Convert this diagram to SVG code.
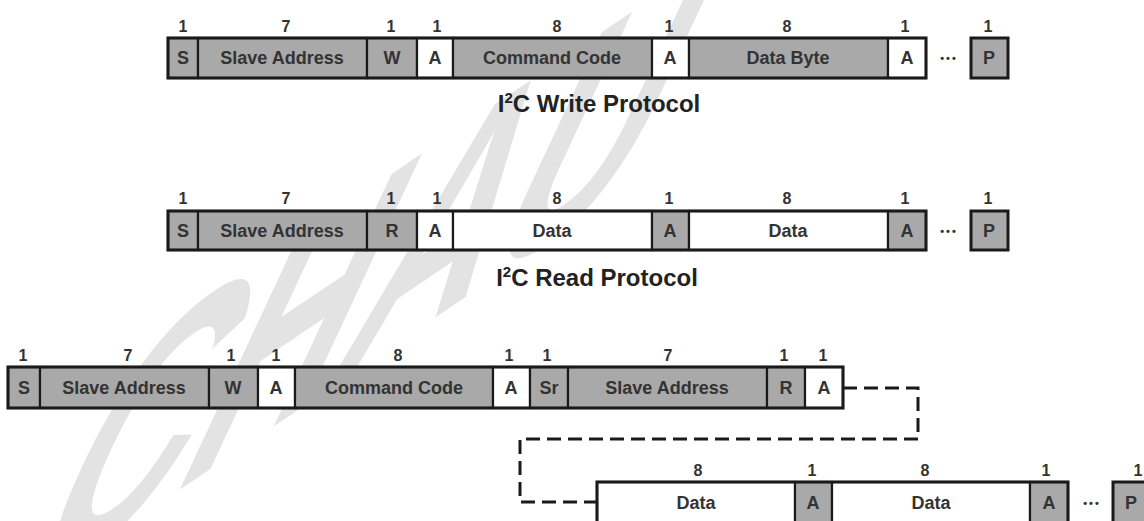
<svg xmlns="http://www.w3.org/2000/svg" width="1144" height="521" viewBox="0 0 1144 521">
<style>
.g{fill:#a9a9a9;stroke:#1a1a1a;stroke-width:2.2}
.w{fill:#ffffff;stroke:#1a1a1a;stroke-width:2.2}
.o{fill:none;stroke:#1a1a1a;stroke-width:3}
.l{font-family:"Liberation Sans",Arial,sans-serif;font-weight:bold;font-size:18px;fill:#333;text-anchor:middle}
.n{font-family:"Liberation Sans",Arial,sans-serif;font-weight:bold;font-size:16px;fill:#333;text-anchor:middle}
.c{font-family:"Liberation Sans",Arial,sans-serif;font-weight:bold;font-size:24px;fill:#222;text-anchor:middle}
.d{font-family:"Liberation Sans",Arial,sans-serif;font-weight:bold;font-size:11px;fill:#333;letter-spacing:2px;text-anchor:middle}
.wm{font-family:"Liberation Sans",Arial,sans-serif;font-weight:bold;font-size:300px;fill:#e3e3e3}
</style>
<rect width="1144" height="521" fill="#ffffff"/>
<text class="wm" transform="matrix(0.705,-0.475,-0.571,1.223,13,602)">CHAU</text>

<!-- Row 1: I2C Write -->
<g id="write">
<g id="w-s"><rect class="g" x="168" y="38" width="30" height="40"/><text class="l" x="183" y="64">S</text><text class="n" x="183" y="32">1</text></g>
<g id="w-addr"><rect class="g" x="198" y="38" width="169" height="40"/><text class="l" x="282" y="64">Slave Address</text><text class="n" x="286" y="32">7</text></g>
<g id="w-w"><rect class="g" x="367" y="38" width="50" height="40"/><text class="l" x="392" y="64">W</text><text class="n" x="391" y="32">1</text></g>
<g id="w-a1"><rect class="w" x="417" y="38" width="36" height="40"/><text class="l" x="435" y="64">A</text><text class="n" x="437" y="32">1</text></g>
<g id="w-cmd"><rect class="g" x="453" y="38" width="199" height="40"/><text class="l" x="552" y="64">Command Code</text><text class="n" x="557" y="32">8</text></g>
<g id="w-a2"><rect class="w" x="652" y="38" width="37" height="40"/><text class="l" x="670" y="64">A</text><text class="n" x="669" y="32">1</text></g>
<g id="w-data"><rect class="g" x="689" y="38" width="199" height="40"/><text class="l" x="788" y="64">Data Byte</text><text class="n" x="787" y="32">8</text></g>
<g id="w-a3"><rect class="w" x="888" y="38" width="38" height="40"/><text class="l" x="907" y="64">A</text><text class="n" x="905" y="32">1</text></g>
<rect class="o" x="168" y="38" width="758" height="40"/>
<text class="d" x="949" y="62">•••</text>
<g id="w-p"><rect class="g" x="971" y="38" width="37" height="40" style="stroke-width:3"/><text class="l" x="989" y="64">P</text><text class="n" x="988" y="32">1</text></g>
<text class="c" x="599" y="112">I<tspan font-size="15" dy="-9">2</tspan><tspan dy="9">C Write Protocol</tspan></text>
</g>

<!-- Row 2: I2C Read -->
<g id="read">
<g id="r-s"><rect class="g" x="168" y="211" width="30" height="39"/><text class="l" x="183" y="237">S</text><text class="n" x="183" y="204">1</text></g>
<g id="r-addr"><rect class="g" x="198" y="211" width="169" height="39"/><text class="l" x="282" y="237">Slave Address</text><text class="n" x="286" y="204">7</text></g>
<g id="r-r"><rect class="g" x="367" y="211" width="50" height="39"/><text class="l" x="392" y="237">R</text><text class="n" x="391" y="204">1</text></g>
<g id="r-a1"><rect class="w" x="417" y="211" width="36" height="39"/><text class="l" x="435" y="237">A</text><text class="n" x="437" y="204">1</text></g>
<g id="r-data1"><rect class="w" x="453" y="211" width="199" height="39"/><text class="l" x="552" y="237">Data</text><text class="n" x="557" y="204">8</text></g>
<g id="r-a2"><rect class="g" x="652" y="211" width="37" height="39"/><text class="l" x="670" y="237">A</text><text class="n" x="669" y="204">1</text></g>
<g id="r-data2"><rect class="w" x="689" y="211" width="199" height="39"/><text class="l" x="788" y="237">Data</text><text class="n" x="787" y="204">8</text></g>
<g id="r-a3"><rect class="g" x="888" y="211" width="38" height="39"/><text class="l" x="907" y="237">A</text><text class="n" x="905" y="204">1</text></g>
<rect class="o" x="168" y="211" width="758" height="39"/>
<text class="d" x="949" y="235">•••</text>
<g id="r-p"><rect class="g" x="971" y="211" width="37" height="39" style="stroke-width:3"/><text class="l" x="989" y="237">P</text><text class="n" x="988" y="204">1</text></g>
<text class="c" x="597" y="286">I<tspan font-size="15" dy="-9">2</tspan><tspan dy="9">C Read Protocol</tspan></text>
</g>

<!-- Row 3: combined format, first part -->
<g id="combined1">
<g id="c-s"><rect class="g" x="8" y="367" width="32" height="41"/><text class="l" x="24" y="394">S</text><text class="n" x="23" y="361">1</text></g>
<g id="c-addr1"><rect class="g" x="40" y="367" width="169" height="41"/><text class="l" x="124" y="394">Slave Address</text><text class="n" x="128" y="361">7</text></g>
<g id="c-w"><rect class="g" x="209" y="367" width="49" height="41"/><text class="l" x="233" y="394">W</text><text class="n" x="231" y="361">1</text></g>
<g id="c-a1"><rect class="w" x="258" y="367" width="37" height="41"/><text class="l" x="276" y="394">A</text><text class="n" x="276" y="361">1</text></g>
<g id="c-cmd"><rect class="g" x="295" y="367" width="198" height="41"/><text class="l" x="394" y="394">Command Code</text><text class="n" x="398" y="361">8</text></g>
<g id="c-a2"><rect class="w" x="493" y="367" width="37" height="41"/><text class="l" x="511" y="394">A</text><text class="n" x="509" y="361">1</text></g>
<g id="c-sr"><rect class="g" x="530" y="367" width="38" height="41"/><text class="l" x="549" y="394">Sr</text><text class="n" x="547" y="361">1</text></g>
<g id="c-addr2"><rect class="g" x="568" y="367" width="199" height="41"/><text class="l" x="667" y="394">Slave Address</text><text class="n" x="668" y="361">7</text></g>
<g id="c-r"><rect class="g" x="767" y="367" width="38" height="41"/><text class="l" x="786" y="394">R</text><text class="n" x="784" y="361">1</text></g>
<g id="c-a3"><rect class="w" x="805" y="367" width="38" height="41"/><text class="l" x="824" y="394">A</text><text class="n" x="823" y="361">1</text></g>
<rect class="o" x="8" y="367" width="835" height="41"/>
</g>

<!-- Row 4: combined format, second part -->
<g id="combined2">
<g id="c-data1"><rect class="w" x="597" y="482" width="198" height="42"/><text class="l" x="696" y="509">Data</text><text class="n" x="698" y="476">8</text></g>
<g id="c-a4"><rect class="g" x="795" y="482" width="37" height="42"/><text class="l" x="813" y="509">A</text><text class="n" x="812" y="476">1</text></g>
<g id="c-data2"><rect class="w" x="832" y="482" width="198" height="42"/><text class="l" x="931" y="509">Data</text><text class="n" x="925" y="476">8</text></g>
<g id="c-a5"><rect class="g" x="1030" y="482" width="38" height="42"/><text class="l" x="1049" y="509">A</text><text class="n" x="1046" y="476">1</text></g>
<rect class="o" x="597" y="482" width="471" height="42"/>
<text class="d" x="1092" y="507">•••</text>
<g id="c-p"><rect class="g" x="1113" y="482" width="37" height="42" style="stroke-width:3"/><text class="l" x="1131" y="509">P</text><text class="n" x="1138" y="476">1</text></g>
</g>

<g id="connectors">
<path d="M843,388 H918 V439 H520 V502 H597" fill="none" stroke="#1a1a1a" stroke-width="3" stroke-dasharray="14,7"/>
</g>
</svg>
